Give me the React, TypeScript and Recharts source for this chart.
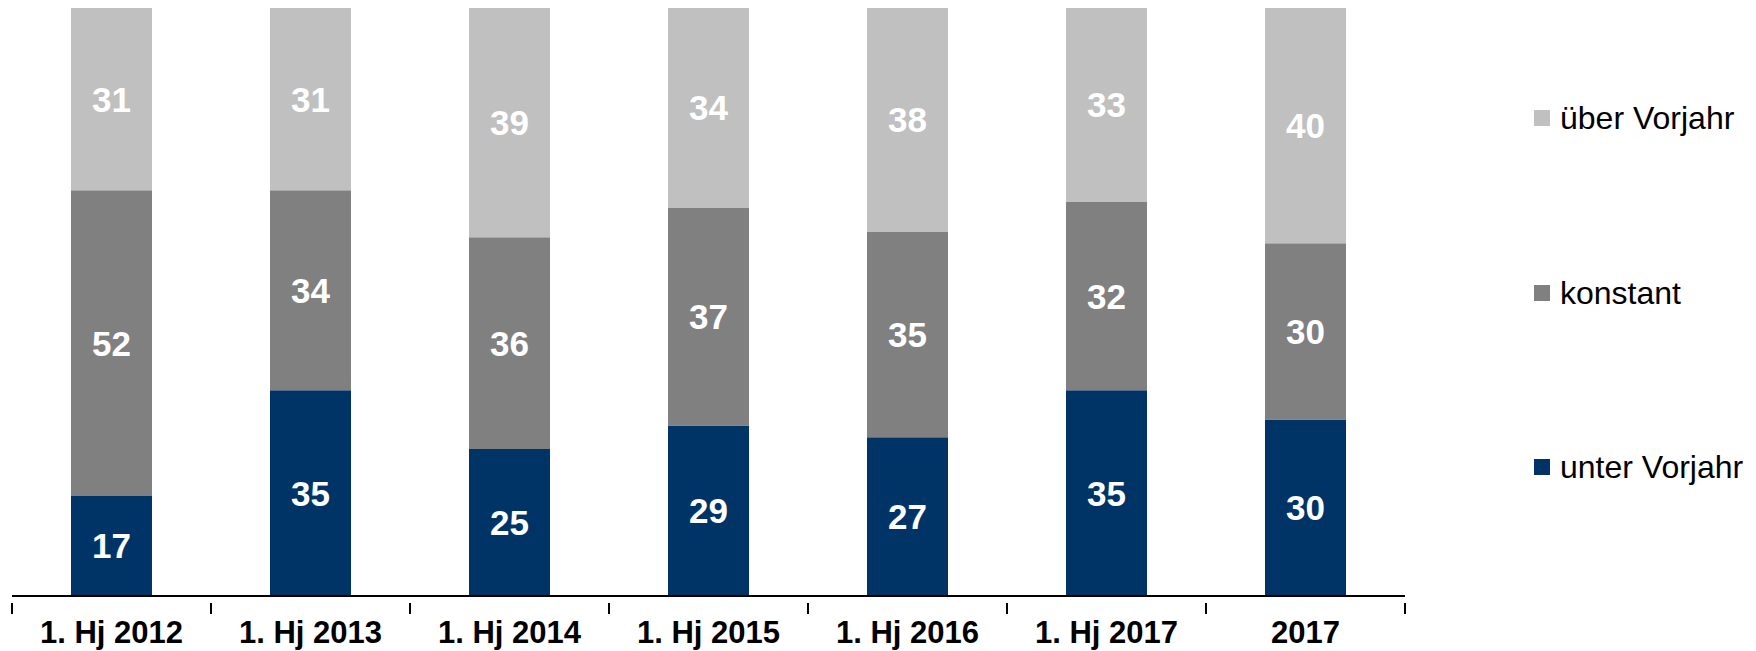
import { BarChart, Bar, XAxis, YAxis, LabelList } from 'recharts';

const categories = ['1. Hj 2012', '1. Hj 2013', '1. Hj 2014', '1. Hj 2015', '1. Hj 2016', '1. Hj 2017', '2017'];
const unterVorjahr = [17, 35, 25, 29, 27, 35, 30];
const konstant = [52, 34, 36, 37, 35, 32, 30];
const ueberVorjahr = [31, 31, 39, 34, 38, 33, 40];

const seriesInfo = [
  { key: 'ueber', name: 'über Vorjahr', color: '#C0C0C0' },
  { key: 'konst', name: 'konstant', color: '#808080' },
  { key: 'unter', name: 'unter Vorjahr', color: '#003366' },
];

const data = categories.map((cat, i) => ({
  cat,
  unter: unterVorjahr[i],
  konst: konstant[i],
  ueber: ueberVorjahr[i],
}));

const FONT = '"Liberation Sans", Arial, sans-serif';
const WIDTH = 1756;
const HEIGHT = 651;
const MARGIN = { top: 8, right: 351, bottom: 0, left: 12 };
const BAND = (WIDTH - MARGIN.left - MARGIN.right) / categories.length;

// category label plus the boundary tick marks between categories
function CategoryTick(props: any) {
  const { x, y, payload } = props;
  const idx = payload.index;
  const half = BAND / 2;
  return (
    <g>
      <line x1={x - half} x2={x - half} y1={y - 1} y2={y + 10} stroke="#000" strokeWidth={2} />
      {idx === categories.length - 1 && (
        <line x1={x + half} x2={x + half} y1={y - 1} y2={y + 10} stroke="#000" strokeWidth={2} />
      )}
      <text x={x} y={y + 39} textAnchor="middle" fontFamily={FONT} fontWeight="bold" fontSize={31} fill="#000">
        {payload.value}
      </text>
    </g>
  );
}

function SideLegend() {
  const rows = [118, 293, 467];
  return (
    <div style={{ position: 'absolute', left: 1534, top: 0, width: 222, height: HEIGHT }}>
      {seriesInfo.map((s, i) => (
        <div
          key={s.key}
          style={{
            position: 'absolute',
            left: 0,
            top: rows[i] - 20,
            height: 40,
            display: 'flex',
            alignItems: 'center',
            fontFamily: FONT,
            fontSize: 32,
            color: '#000',
            whiteSpace: 'nowrap',
          }}
        >
          <span style={{ display: 'inline-block', width: 16, height: 16, background: s.color, marginRight: 10 }} />
          {s.name}
        </div>
      ))}
    </div>
  );
}

const labelProps = { fill: '#fff', fontSize: 35, fontWeight: 'bold', fontFamily: FONT };

export default function App() {
  return (
    <div style={{ position: 'absolute', left: 0, top: 0, width: WIDTH, height: HEIGHT, background: '#fff' }}>
      <BarChart width={WIDTH} height={HEIGHT} data={data} margin={MARGIN} barSize={81}>
        <XAxis
          dataKey="cat"
          height={55}
          interval={0}
          tickLine={false}
          axisLine={{ stroke: '#000', strokeWidth: 2 }}
          tick={<CategoryTick />}
        />
        <YAxis hide domain={[0, 100]} />
        <Bar dataKey="unter" name="unter Vorjahr" stackId="a" fill="#003366" isAnimationActive={false}>
          <LabelList dataKey="unter" position="center" {...labelProps} />
        </Bar>
        <Bar dataKey="konst" name="konstant" stackId="a" fill="#808080" isAnimationActive={false}>
          <LabelList dataKey="konst" position="center" {...labelProps} />
        </Bar>
        <Bar dataKey="ueber" name="über Vorjahr" stackId="a" fill="#C0C0C0" isAnimationActive={false}>
          <LabelList dataKey="ueber" position="center" {...labelProps} />
        </Bar>
      </BarChart>
      <SideLegend />
    </div>
  );
}
